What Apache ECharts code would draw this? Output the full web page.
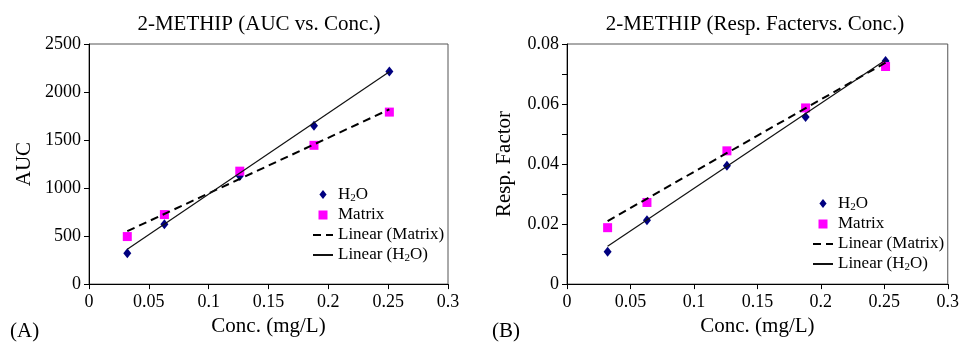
<!DOCTYPE html>
<html>
<head>
<meta charset="utf-8">
<script src="https://cdn.jsdelivr.net/npm/echarts@6/dist/echarts.min.js"></script>
<style>
  html, body { margin: 0; padding: 0; background: #fff; }
  #chart { width: 962px; height: 342px; }
</style>
</head>
<body>
<div id="chart"></div>
<script>
// concentrations (mg/L) shared by both panels
const conc = [0.032, 0.063, 0.126, 0.188, 0.251];

// panel A: AUC
const aucH2O = [320, 622, 1126, 1649, 2213];
const aucMatrix = [495, 724, 1176, 1445, 1791];

// panel B: response factor
const rfH2O = [0.0108, 0.0213, 0.0394, 0.0557, 0.0743];
const rfMatrix = [0.0188, 0.0272, 0.0444, 0.0587, 0.0725];

// trendline end points
const trendX = [0.032, 0.251];
const aucTrendH2O = [364, 2211];
const aucTrendMatrix = [551, 1819];
const rfTrendH2O = [0.0126, 0.0747];
const rfTrendMatrix = [0.0210, 0.0738];

const xTicks = { min: 0, max: 0.3, interval: 0.05 };

const H2O = "H2O";
const MATRIX = "Matrix";
const LIN_MATRIX = "Linear (Matrix)";
const LIN_H2O = "Linear (H2O)";

const FONT = "Liberation Serif";
const INK = "#000";
const NAVY = "#000080";
const MAGENTA = "#ff00ff";

// path icons keep their aspect inside the legend box, built-in ones stretch
const DIAMOND_ICON = "path://M4,0L8,5L4,10L0,5Z";
const SQUARE_ICON = "path://M0,0H10V10H0Z";

function pairs(xs, ys) {
  return xs.map((x, i) => [x, ys[i]]);
}

function legendLabel(name) {
  if (name === H2O) return "{t|H}{s|2}{t|O}";
  if (name === LIN_H2O) return "{t|Linear (H}{s|2}{t|O)}";
  return "{t|" + name + "}";
}

function legend(left, top) {
  return {
    left, top,
    orient: "vertical",
    itemWidth: 20,
    itemHeight: 9,
    itemGap: 3,
    padding: 0,
    data: [
      { name: H2O, icon: DIAMOND_ICON, itemStyle: { color: NAVY, opacity: 1 } },
      { name: MATRIX, icon: SQUARE_ICON, itemStyle: { color: MAGENTA, opacity: 1 } },
      { name: LIN_MATRIX, itemStyle: { opacity: 0 } },
      { name: LIN_H2O, itemStyle: { opacity: 0 } },
    ],
    formatter: legendLabel,
    textStyle: {
      color: INK,
      fontFamily: FONT,
      fontSize: 17,
      lineHeight: 17,
      rich: {
        t: { fontFamily: FONT, fontSize: 17, color: INK },
        s: { fontFamily: FONT, fontSize: 11, color: INK, padding: [7, 0, 0, 0] },
      },
    },
  };
}

function xAxis(gridIndex) {
  return {
    gridIndex,
    type: "value",
    ...xTicks,
    name: "Conc. (mg/L)",
    nameLocation: "middle",
    nameGap: 31,
    nameTextStyle: { fontFamily: FONT, fontSize: 21, color: INK },
    axisLine: { lineStyle: { color: INK } },
    axisTick: { length: 5, lineStyle: { color: INK } },
    axisLabel: { fontFamily: FONT, fontSize: 18, color: INK, margin: 9 },
    splitLine: { show: false },
  };
}

function yAxis(gridIndex, name, min, max, interval, nameGap, minor) {
  return {
    gridIndex,
    type: "value",
    min, max, interval,
    name,
    nameLocation: "middle",
    nameGap,
    nameTextStyle: { fontFamily: FONT, fontSize: 21, color: INK },
    axisLine: { show: true, lineStyle: { color: INK } },
    axisTick: { show: true, length: 5, lineStyle: { color: INK } },
    minorTick: { show: minor, splitNumber: 2, length: 5, lineStyle: { color: INK } },
    axisLabel: {
      fontFamily: FONT, fontSize: 18, color: INK, margin: 8,
      formatter: (v) => String(+v.toFixed(4)),
    },
    splitLine: { show: false },
  };
}

function seriesFor(i, h2o, matrix, trendH2O, trendMatrix) {
  return [
    {
      name: H2O, type: "scatter", xAxisIndex: i, yAxisIndex: i,
      data: pairs(conc, h2o), symbol: "diamond", symbolSize: [8, 10],
      itemStyle: { color: NAVY, opacity: 1 }, z: 2,
    },
    {
      name: MATRIX, type: "scatter", xAxisIndex: i, yAxisIndex: i,
      data: pairs(conc, matrix), symbol: "rect", symbolSize: 9,
      itemStyle: { color: MAGENTA, opacity: 1 }, z: 2,
    },
    {
      name: LIN_MATRIX, type: "line", xAxisIndex: i, yAxisIndex: i,
      data: pairs(trendX, trendMatrix), symbol: "none",
      lineStyle: { color: INK, width: 2, type: [8, 5] },
      itemStyle: { color: INK }, z: 3,
    },
    {
      name: LIN_H2O, type: "line", xAxisIndex: i, yAxisIndex: i,
      data: pairs(trendX, trendH2O), symbol: "none",
      lineStyle: { color: "#111", width: 1.2 },
      itemStyle: { color: INK }, z: 3,
    },
  ];
}

const chart = echarts.init(document.getElementById("chart"), null, { renderer: "canvas" });

const titleText = { fontFamily: FONT, fontSize: 21, fontWeight: "normal", color: INK };

chart.setOption({
  animation: false,
  backgroundColor: "#fff",
  title: [
    { text: "2-METHIP (AUC vs. Conc.)", left: 259, top: 14, textAlign: "center", padding: 0, textStyle: titleText },
    { text: "2-METHIP (Resp. Factervs. Conc.)", left: 755, top: 14, textAlign: "center", padding: 0, textStyle: titleText },
    { text: "(A)", left: 10, top: 321, padding: 0, textStyle: titleText },
    { text: "(B)", left: 492, top: 321, padding: 0, textStyle: titleText },
  ],
  legend: [legend(312, 186), legend(812, 195)],
  grid: [
    { left: 89, top: 44, right: 514, bottom: 53, show: true, borderColor: "#555", borderWidth: 1 },
    { left: 567, top: 44, right: 14, bottom: 55, show: true, borderColor: "#555", borderWidth: 1 },
  ],
  xAxis: [xAxis(0), xAxis(1)],
  yAxis: [
    yAxis(0, "AUC", 0, 2500, 500, 54, false),
    yAxis(1, "Resp. Factor", 0, 0.08, 0.02, 52, true),
  ],
  series: [
    ...seriesFor(0, aucH2O, aucMatrix, aucTrendH2O, aucTrendMatrix),
    ...seriesFor(1, rfH2O, rfMatrix, rfTrendH2O, rfTrendMatrix),
  ],
});
</script>
</body>
</html>
